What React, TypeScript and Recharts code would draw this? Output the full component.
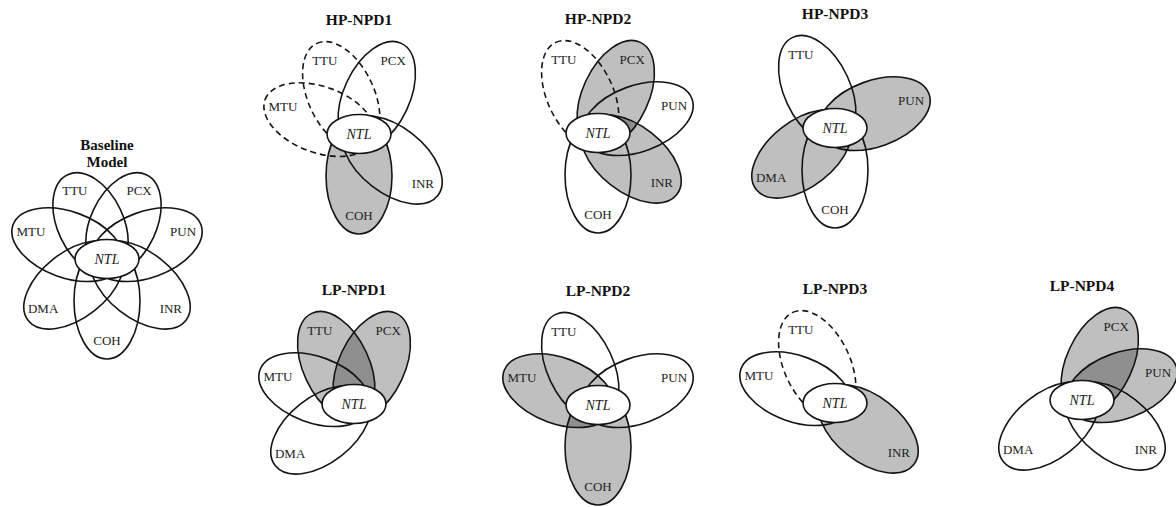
import React from 'react';
import { ScatterChart, Scatter, XAxis, YAxis } from 'recharts';

// ---- data ----
const diagramTitles: string[][] = [
  ['Baseline', 'Model'],
  ['HP-NPD1'],
  ['HP-NPD2'],
  ['HP-NPD3'],
  ['LP-NPD1'],
  ['LP-NPD2'],
  ['LP-NPD3'],
  ['LP-NPD4'],
];
// position of each diagram's NTL core on the (hidden) x / y scales
const diagramX = [107, 359, 598, 835, 354, 598, 835, 1082];
const diagramY = [259, 134, 133, 128, 404, 405, 403, 400];

const petalNames = ['PCX', 'TTU', 'MTU', 'DMA', 'COH', 'INR', 'PUN'];
const petalAngles = [65, 115, 160, 218, 270, 322, 20];
const coreName = 'NTL';

// state of each petal per diagram: '' absent, 's' solid, 'd' dashed, 'g' grey
const petalStates: string[][] = [
  ['s', 's', 's', 's', 's', 's', 's'], // Baseline
  ['s', 'd', 'd', '', 'g', 's', ''], // HP-NPD1
  ['g', 'd', '', '', 's', 'g', 's'], // HP-NPD2
  ['', 's', '', 'g', 's', '', 'g'], // HP-NPD3
  ['g', 'g', 's', 's', '', '', ''], // LP-NPD1
  ['', 's', 'g', '', 'g', '', 's'], // LP-NPD2
  ['', 'd', 's', '', '', 'g', ''], // LP-NPD3
  ['g', '', '', 's', '', 's', 'g'], // LP-NPD4
];

// ---- derived rows ----
type PetalRow = { x: number; y: number; name: string; angle: number; state: string; base: boolean };
const petalRows: PetalRow[] = [];
diagramX.forEach((x, i) => {
  petalNames.forEach((name, j) => {
    const state = petalStates[i][j];
    if (state) petalRows.push({ x, y: diagramY[i], name, angle: petalAngles[j], state, base: i === 0 });
  });
});
const greyRows = petalRows.filter((r) => r.state === 'g');
const coreRows = diagramX.map((x, i) => ({ x, y: diagramY[i], name: coreName, title: diagramTitles[i] }));

// ---- styles ----
const A = 58; // petal semi-major
const B = 33; // petal semi-minor
const D = 42; // petal centre offset from core
const LABEL_R = 81;
const CORE_RX = 32;
const CORE_RY = 19.5;
const STROKE = '#141414';
const SW = 1.6;
const FONT = "'Liberation Serif', 'Times New Roman', Times, serif";

// the baseline flower is drawn a touch shorter at its upper petals
const petalGeom = (p: PetalRow) => {
  if (p.base && p.angle > 40 && p.angle < 140) return { a: A - 4, d: D - 3 };
  return { a: A, d: D };
};

const PetalFill = (props: any) => {
  const { cx, cy, payload } = props;
  if (cx == null || cy == null) return <g />;
  const g = petalGeom(payload);
  return (
    <g transform={`translate(${cx},${cy}) rotate(${-payload.angle})`}>
      <ellipse cx={g.d} cy={0} rx={g.a} ry={B} fill="#000" fillOpacity={0.25} stroke="none" />
    </g>
  );
};

const PetalOutline = (props: any) => {
  const { cx, cy, payload } = props;
  if (cx == null || cy == null) return <g />;
  const g = petalGeom(payload);
  return (
    <g transform={`translate(${cx},${cy}) rotate(${-payload.angle})`}>
      <ellipse
        cx={g.d}
        cy={0}
        rx={g.a}
        ry={B}
        fill="none"
        stroke={STROKE}
        strokeWidth={SW}
        strokeDasharray={payload.state === 'd' ? '6 4' : undefined}
      />
    </g>
  );
};

const PetalLabel = (props: any) => {
  const { cx, cy, payload } = props;
  if (cx == null || cy == null) return <g />;
  const rad = (payload.angle * Math.PI) / 180;
  const r = payload.base && payload.angle > 40 && payload.angle < 140 ? LABEL_R - 5 : LABEL_R;
  return (
    <text
      x={cx + r * Math.cos(rad)}
      y={cy - r * Math.sin(rad)}
      dy={4.5}
      textAnchor="middle"
      style={{ fontFamily: FONT, fontSize: 13 }}
      fill="#222"
    >
      {payload.name}
    </text>
  );
};

const Core = (props: any) => {
  const { cx, cy, payload } = props;
  if (cx == null || cy == null) return <g />;
  const lines: string[] = payload.title;
  return (
    <g>
      <ellipse cx={cx} cy={cy} rx={CORE_RX} ry={CORE_RY} fill="#fff" stroke={STROKE} strokeWidth={SW} />
      <text
        x={cx}
        y={cy}
        dy={4.5}
        textAnchor="middle"
        style={{ fontFamily: FONT, fontSize: 14, fontStyle: 'italic' }}
        fill="#222"
      >
        {payload.name}
      </text>
      {lines.map((t, k) => (
        <text
          key={k}
          x={cx}
          y={cy - 109 + k * 17}
          textAnchor="middle"
          style={{ fontFamily: FONT, fontSize: lines.length > 1 ? 15 : 15.5, fontWeight: 'bold' }}
          fill="#111"
        >
          {t}
        </text>
      ))}
    </g>
  );
};

export default function App() {
  return (
    <div style={{ width: 1176, height: 507, background: '#fff' }}>
      <style>{'body{margin:0;background:#fff}'}</style>
      <ScatterChart width={1176} height={507} margin={{ top: 0, right: 0, bottom: 0, left: 0 }}>
        <XAxis type="number" dataKey="x" domain={[0, 1176]} allowDataOverflow hide />
        <YAxis type="number" dataKey="y" domain={[0, 507]} allowDataOverflow reversed hide />
        <Scatter data={greyRows} shape={PetalFill} isAnimationActive={false} />
        <Scatter data={petalRows} shape={PetalOutline} isAnimationActive={false} />
        <Scatter data={coreRows} shape={Core} isAnimationActive={false} />
        <Scatter data={petalRows} shape={PetalLabel} isAnimationActive={false} />
      </ScatterChart>
    </div>
  );
}
